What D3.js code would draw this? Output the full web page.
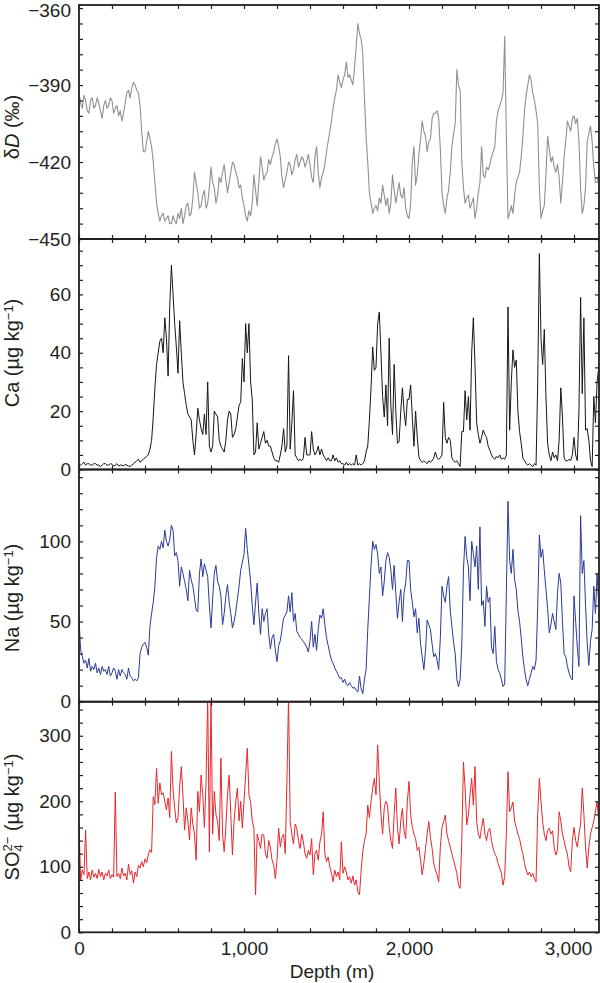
<!DOCTYPE html>
<html>
<head>
<meta charset="utf-8">
<script src="https://cdn.jsdelivr.net/npm/d3@7"></script>
<style>
  body { margin: 0; background: #fff; }
  svg { display: block; font-family: "Liberation Sans", Arial, Helvetica, sans-serif; }
</style>
</head>
<body>
<div id="chart"></div>
<script>
// ice core records, one value every 10 m of depth starting at 0 m (20 values per row = 200 m)
const step = 10;

// deuterium (permil)
const dD = [
  -393, -397, -399, -394, -396, -400, -401, -396, -395, -399, -398, -395, -397, -400, -403, -398, -396, -399, -398, -395,
  -396, -401, -399, -398, -402, -400, -404, -401, -397, -393, -392, -395, -391, -389, -390, -392, -393, -398, -408, -416,
  -416, -412, -408, -411, -414, -420, -428, -436, -440, -443, -441, -440, -443, -442, -441, -444, -444, -441, -443, -444,
  -440, -442, -438, -444, -441, -437, -436, -441, -440, -434, -424, -428, -432, -438, -437, -433, -431, -438, -436, -430,
  -422, -428, -430, -436, -433, -426, -428, -424, -421, -427, -432, -428, -424, -420, -421, -424, -426, -430, -429, -434,
  -437, -441, -443, -439, -441, -436, -425, -431, -437, -428, -418, -422, -427, -425, -424, -419, -421, -418, -416, -413,
  -411, -414, -418, -426, -430, -427, -424, -420, -421, -425, -423, -419, -417, -422, -420, -418, -419, -422, -420, -417,
  -421, -426, -428, -418, -414, -424, -430, -426, -424, -421, -416, -412, -408, -404, -399, -395, -392, -386, -389, -391,
  -388, -386, -381, -387, -386, -388, -390, -383, -375, -366, -370, -372, -378, -395, -410, -420, -432, -436, -440, -438,
  -437, -439, -434, -436, -429, -433, -437, -434, -440, -436, -425, -431, -436, -432, -428, -433, -434, -430, -438, -441,
  -442, -436, -420, -414, -429, -425, -417, -411, -404, -408, -410, -416, -412, -411, -403, -401, -401, -400, -403, -415,
  -432, -437, -440, -434, -431, -424, -414, -409, -405, -384, -390, -392, -420, -430, -436, -434, -433, -438, -436, -434,
  -442, -438, -432, -428, -414, -425, -426, -422, -423, -421, -418, -416, -414, -404, -400, -398, -396, -393, -371, -410,
  -442, -440, -437, -440, -433, -428, -426, -424, -418, -410, -400, -394, -390, -386, -388, -393, -396, -400, -405, -430,
  -442, -439, -437, -425, -410, -415, -420, -418, -422, -424, -421, -426, -436, -428, -418, -412, -404, -406, -408, -403,
  -402, -405, -403, -412, -430, -440, -437, -430, -412, -409, -406, -412, -422, -428, -428, -425, -428
];

// calcium (ug/kg)
const ca = [
  2, 1.5, 2, 2.5, 1.5, 2, 2, 1.5, 1.5, 2, 2, 1.5, 1.5, 1, 1.5, 2, 2, 1.5, 1.5, 2,
  1.8, 1.2, 1.5, 2, 1.2, 1.5, 1.5, 1.2, 1.8, 1.5, 1.2, 1, 1.5, 2, 2.5, 3, 3.5, 2.5, 3, 3.5,
  4, 4.5, 5, 7, 10, 18, 28, 36, 40, 44, 45, 40, 52, 45, 32, 56, 70, 60, 50, 42,
  33, 51, 40, 30, 26, 22, 19, 18, 17, 10, 5, 12, 21, 17, 14, 12, 19, 12, 30, 8,
  6, 8, 20, 19, 18, 10, 8, 7, 6, 10, 17, 20, 19, 11, 12, 14, 18, 22, 23, 38,
  30, 50, 40, 50, 30, 24, 5, 6, 16, 7, 9, 11, 13, 9, 10, 8, 8, 6, 4, 3,
  3, 2.5, 5, 8, 14, 6, 8, 39, 7, 16, 27, 5, 4, 3, 3.5, 3, 4, 11, 5, 5,
  5, 13, 7, 5, 6, 8, 5, 7, 5, 4, 3, 4, 3, 3, 5, 3, 4, 2.5, 3, 2,
  2, 1.5, 2.5, 1.5, 2, 1.5, 2, 1.5, 5, 1.5, 2, 1.5, 2, 3, 6, 8, 17, 28, 42, 34,
  35, 50, 54, 40, 25, 18, 29, 15, 45, 22, 12, 36, 20, 9, 9.5, 20, 28, 20, 15, 24,
  24, 29, 18, 8, 20, 11, 4.3, 3, 2.5, 3, 2.5, 2, 3, 2.5, 3, 4, 6, 4, 3.5, 4,
  5, 23, 11, 9, 11, 10, 4, 3, 2.5, 3, 2, 1, 13, 13, 27, 17, 25, 13.5, 40, 52,
  36, 16, 12, 9, 11, 13.5, 12, 11, 8, 6.6, 5, 4, 3.5, 4.5, 4, 5, 3.5, 4, 3.5, 5,
  55.7, 13.5, 30, 41, 35, 37.5, 20, 13, 9, 4, 3, 2, 1.5, 2, 1.5, 1, 2, 1.5, 29.6, 74,
  45, 36, 48, 25, 9, 5, 3, 6, 4, 5, 3, 10, 28, 18, 4, 3, 3, 3.5, 3, 5,
  11, 5, 3, 20, 59, 26, 52, 13.5, 14, 10, 3, 1, 25, 16, 30, 35, 35
];

// sodium (ug/kg)
const na = [
  52, 32, 28, 24, 26, 21, 27, 19, 22, 20, 24, 18, 21, 17, 22, 19, 20, 17, 22, 16,
  18, 21, 19, 14, 20, 16, 20, 18, 17, 14, 21, 16, 15, 13, 14, 13, 15, 30, 34, 36,
  37, 34, 29, 47, 55, 62, 72, 90, 97, 95, 100, 96, 107, 100, 97, 101, 110, 107, 91, 93,
  88, 72, 84, 80, 75, 70, 63, 82, 76, 72, 65, 57, 56, 80, 89, 78, 86, 82, 78, 60,
  46, 64, 80, 85, 75, 72, 66, 48, 55, 66, 73, 62, 55, 46, 50, 56, 64, 72, 82, 87,
  92, 108, 95, 85, 75, 60, 48, 62, 74, 55, 42, 58, 50, 55, 58, 42, 33, 40, 42, 32,
  25, 35, 38, 45, 52, 54, 56, 66, 56, 68, 50, 55, 44, 42, 40, 39, 37.5, 36, 34, 31,
  38, 50, 34, 42, 32, 45, 54, 52, 58, 48, 40, 35, 30, 26, 24, 21, 19, 17, 14.6, 15,
  12, 14, 11, 10, 12, 10, 8.4, 9, 7, 6, 16, 8, 5, 14, 20, 45, 65, 85, 100, 95,
  98, 92, 80, 84, 66, 75, 88, 93, 90, 82, 70, 85, 68, 52, 62, 70, 50, 68, 74, 88,
  88, 70, 62, 53, 58, 43, 52, 36, 28, 20, 32, 51, 48, 45, 36, 28, 30, 26, 20, 40,
  72, 66, 62, 72, 78, 57, 47, 37, 30, 14, 9.4, 14, 36, 82, 103, 90, 84, 63, 100, 92,
  84, 97, 70, 109, 60, 63, 47, 72, 62, 65, 34, 30, 47, 25, 20, 17.7, 14, 9.4, 11, 68,
  125, 88, 80, 95, 76, 70, 57, 50, 40, 28, 20, 13.6, 10, 14, 18, 22, 20, 26, 59, 104,
  90, 95, 82, 70, 58, 43, 48, 55, 50, 45, 68, 80, 74, 50, 30, 28, 22, 18, 15, 13.6,
  66, 50, 34, 22, 116, 80, 88, 60, 36.6, 22.7, 38, 45, 72, 55, 80, 60, 60
];

// sulphate (ug/kg)
const so4 = [
  165, 80, 95, 88, 156, 82, 92, 80, 95, 84, 90, 82, 96, 85, 92, 80, 90, 86, 95, 82,
  88, 84, 214, 85, 90, 82, 98, 86, 90, 80, 104, 88, 94, 75, 92, 85, 102, 98, 108, 100,
  112, 106, 118, 126, 122, 207, 195, 250, 197, 228, 210, 213, 200, 187, 205, 175, 276, 217, 190, 167,
  175, 222, 253, 210, 156, 190, 170, 141, 190, 165, 150, 110, 215, 184, 240, 210, 160, 230, 360, 123,
  360, 150, 215, 180, 169, 140, 266, 150, 123, 160, 210, 240, 180, 118, 170, 200, 220, 170, 200, 159,
  200, 240, 281, 210, 199, 170, 159, 57, 150, 140, 128, 150, 148, 120, 113, 140, 130, 110, 103, 82,
  110, 159, 130, 145, 150, 120, 230, 360, 169, 150, 135, 165, 159, 140, 128, 150, 138, 120, 113, 125,
  118, 143, 88, 120, 125, 110, 138, 150, 184, 120, 108, 115, 100, 90, 77, 95, 85, 92, 80, 138,
  90, 100, 92, 80, 85, 75, 86, 72, 80, 62, 57, 95, 123, 140, 150, 194, 175, 200, 220, 235,
  210, 286, 230, 180, 150, 190, 200, 194, 160, 140, 128, 180, 220, 160, 135, 170, 189, 155, 143, 200,
  230, 180, 160, 150, 143, 125, 130, 110, 88, 105, 128, 150, 169, 145, 128, 105, 95, 88, 77, 130,
  160, 169, 179, 150, 140, 130, 120, 110, 100, 90, 72, 67, 140, 260, 220, 164, 180, 210, 235, 194,
  253, 170, 150, 143, 160, 174, 150, 140, 155, 159, 140, 128, 120, 115, 105, 98, 90, 72, 85, 150,
  245, 184, 190, 199, 170, 160, 150, 143, 130, 120, 105, 95, 87.5, 92, 85, 90, 82, 77, 180, 235,
  200, 169, 150, 140, 155, 159, 150, 155, 130, 118, 125, 184, 170, 150, 140, 128, 120, 100, 92.5, 140,
  160, 140, 130, 150, 165, 220, 180, 130, 98, 130, 150, 160, 170, 185, 199, 170, 170
];

// tick labels
const depthLabels = [0, 1000, 2000, 3000];
const dDLabels = [-360, -390, -420, -450];
const caLabels = [0, 20, 40, 60];
const naLabels = [0, 50, 100];
const so4Labels = [0, 100, 200, 300];

const w = 600;
const h = 983;
const left = 79;
const right = 599;
const tick = 4;

const svg = d3.select("#chart").append("svg").attr("width", w).attr("height", h);

const x = d3.scaleLinear().domain([0, 3151.5]).range([left, right]);

const panels = [
  { id: "dD", values: dD, domain: [-450, -358.8], top: 5, bottom: 239, minor: 6, labels: dDLabels, color: "#8a9296", lw: 1.1, titleY: 127 },
  { id: "ca", values: ca, domain: [0, 79], top: 239, bottom: 469.5, minor: 5, labels: caLabels, color: "#161616", lw: 1, titleY: 353 },
  { id: "na", values: na, domain: [0, 144.8], top: 469.5, bottom: 701.7, minor: 10, labels: naLabels, color: "#2b3994", lw: 1, titleY: 598 },
  { id: "so4", values: so4, domain: [0, 352], top: 701.7, bottom: 932.3, minor: 20, labels: so4Labels, color: "#e6272c", lw: 1, titleY: 817 },
];

const fmt = d3.format(",");
const xMinor = d3.range(0, 3152, 200);

panels.forEach((p, k) => {
  const y = d3.scaleLinear().domain(p.domain).range([p.bottom, p.top]);
  const g = svg.append("g").attr("class", "panel-" + p.id);

  g.append("clipPath")
    .attr("id", "clip-" + p.id)
    .append("rect")
    .attr("x", left)
    .attr("y", p.top)
    .attr("width", right - left)
    .attr("height", p.bottom - p.top);

  g.append("path")
    .datum(p.values)
    .attr("clip-path", `url(#clip-${p.id})`)
    .attr("fill", "none")
    .attr("stroke", p.color)
    .attr("stroke-width", p.lw)
    .attr("stroke-linejoin", "round")
    .attr("d", d3.line().x((d, i) => x(i * step)).y((d) => y(d)));

  const yTicks = d3.range(p.domain[0], p.domain[1] + 0.01, p.minor);
  const isLabel = (v) => p.labels.some((l) => Math.abs(l - v) < 1e-6);

  g.append("g")
    .attr("transform", `translate(${left},0)`)
    .call(d3.axisLeft(y).tickValues(yTicks).tickSize(-tick).tickPadding(8).tickFormat((d) => (isLabel(d) ? fmt(d) : "")));
  g.append("g")
    .attr("transform", `translate(${right},0)`)
    .call(d3.axisRight(y).tickValues(yTicks).tickSize(-tick).tickFormat(""));
  g.append("g")
    .attr("transform", `translate(0,${p.top})`)
    .call(d3.axisTop(x).tickValues(xMinor).tickSize(-tick).tickFormat(""));
  const bottomAxis = g.append("g")
    .attr("transform", `translate(0,${p.bottom})`)
    .call(
      d3.axisBottom(x)
        .tickValues(xMinor)
        .tickSize(-tick)
        .tickPadding(9)
        .tickFormat((d) => (k === panels.length - 1 && depthLabels.includes(d) ? fmt(d) : ""))
    );
  bottomAxis.selectAll("text").filter((d) => d === 3000).attr("dx", -6);

  g.selectAll(".domain").remove();
  g.selectAll(".tick line").attr("stroke", "#231f20").attr("stroke-width", 1.2);
  g.selectAll(".tick text").attr("fill", "#231f20").attr("font-size", 19).attr("font-family", null);
  // keep the top label of the first panel inside the picture
  if (k === 0) g.selectAll(".tick text").filter((d) => d === -360).attr("dy", "0.42em");

  g.append("rect")
    .attr("x", left)
    .attr("y", p.top)
    .attr("width", right - left)
    .attr("height", p.bottom - p.top)
    .attr("fill", "none")
    .attr("stroke", "#231f20")
    .attr("stroke-width", 1.8);

  // vertical title
  const t = svg.append("text")
    .attr("transform", `translate(18.5,${p.titleY}) rotate(-90)`)
    .attr("text-anchor", "middle")
    .attr("font-size", 20)
    .attr("fill", "#231f20");

  if (p.id === "dD") {
    t.append("tspan").text("δ");
    t.append("tspan").attr("font-style", "italic").text("D");
    t.append("tspan").text(" (‰)");
  } else {
    if (p.id === "so4") {
      t.append("tspan").text("SO");
      t.append("tspan").attr("font-size", 13).attr("dy", 4).text("4");
      t.append("tspan").attr("font-size", 13).attr("dx", -7.2).attr("dy", -11).text("2−");
      t.append("tspan").attr("dy", 7).text(" (µg kg");
    } else {
      t.append("tspan").text(p.id === "ca" ? "Ca (µg kg" : "Na (µg kg");
    }
    t.append("tspan").attr("font-size", 13).attr("dy", -6).text("−1");
    t.append("tspan").attr("dy", 6).text(")");
  }
});

svg.append("text")
  .attr("x", 332)
  .attr("y", 978)
  .attr("text-anchor", "middle")
  .attr("font-size", 19)
  .attr("fill", "#231f20")
  .text("Depth (m)");
</script>
</body>
</html>
